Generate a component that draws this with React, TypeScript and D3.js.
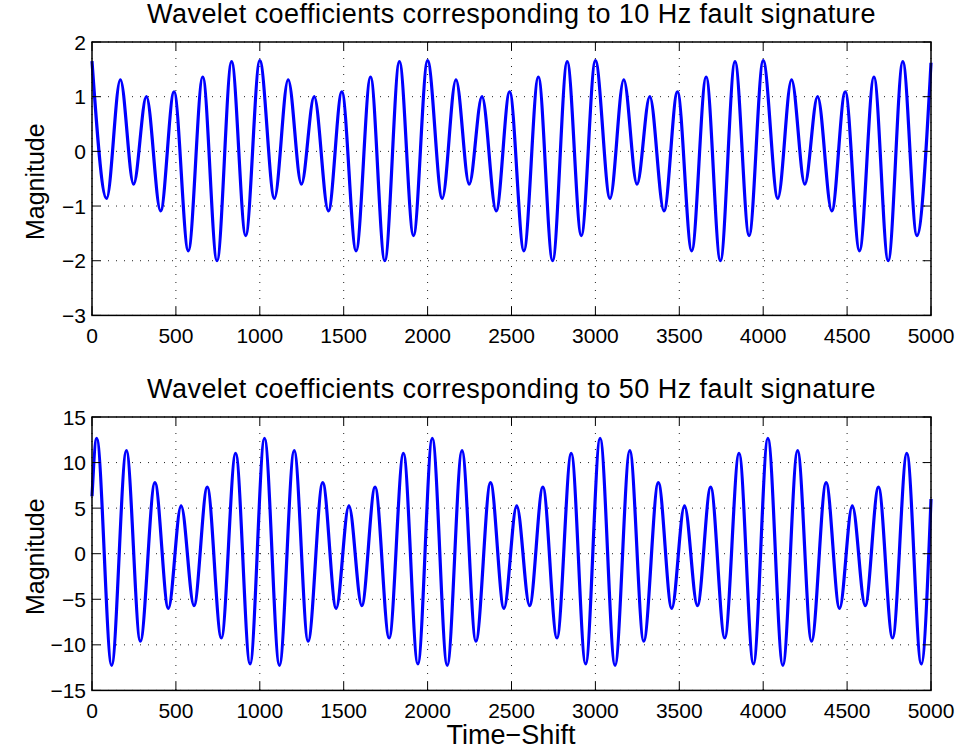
import React from "react";
import * as d3 from "d3";

const xTicks = [0, 500, 1000, 1500, 2000, 2500, 3000, 3500, 4000, 4500, 5000];
const topYTicks = [-3, -2, -1, 0, 1, 2];
const bottomYTicks = [-15, -10, -5, 0, 5, 10, 15];
const topTitle = "Wavelet coefficients corresponding to 10 Hz fault signature";
const bottomTitle = "Wavelet coefficients corresponding to 50 Hz fault signature";
const yLabel = "Magnitude";
const xLabel = "Time\u2212Shift";

// Extrema (peaks and troughs)
const topShift = [
  0, 87, 169, 248, 324, 409, 489, 574, 660, 745, 832, 916,
  1000, 1087, 1169, 1248, 1324, 1409, 1489, 1574, 1660, 1745, 1832, 1916,
  2000, 2087, 2169, 2248, 2324, 2409, 2489, 2574, 2660, 2745, 2832, 2916,
  3000, 3087, 3169, 3248, 3324, 3409, 3489, 3574, 3660, 3745, 3832, 3916,
  4000, 4087, 4169, 4248, 4324, 4409, 4489, 4574, 4660, 4745, 4832, 4916,
  5000,
];
const topMag = [
  1.65, -0.86, 1.31, -0.6, 1.0, -1.09, 1.09, -1.82, 1.36, -2.0, 1.64, -1.54,
  1.66, -0.86, 1.31, -0.6, 1.0, -1.09, 1.09, -1.82, 1.36, -2.0, 1.64, -1.54,
  1.66, -0.86, 1.31, -0.6, 1.0, -1.09, 1.09, -1.82, 1.36, -2.0, 1.64, -1.54,
  1.66, -0.86, 1.31, -0.6, 1.0, -1.09, 1.09, -1.82, 1.36, -2.0, 1.64, -1.54,
  1.66, -0.86, 1.31, -0.6, 1.0, -1.09, 1.09, -1.82, 1.36, -2.0, 1.64, -1.54,
  1.62,
];

// Extrema (peaks and troughs)
const bottomShift = [
  0,
  28, 117, 205, 288, 375, 455, 531, 608, 687, 771, 856, 942,
  1028, 1117, 1205, 1288, 1375, 1455, 1531, 1608, 1687, 1771, 1856, 1942,
  2028, 2117, 2205, 2288, 2375, 2455, 2531, 2608, 2687, 2771, 2856, 2942,
  3028, 3117, 3205, 3288, 3375, 3455, 3531, 3608, 3687, 3771, 3856, 3942,
  4028, 4117, 4205, 4288, 4375, 4455, 4531, 4608, 4687, 4771, 4856, 4942,
  5000,
];
const bottomMag = [
  6.3,
  12.65, -12.25, 11.3, -9.6, 7.8, -6.0, 5.25, -5.7, 7.3, -9.25, 11.0, -12.1,
  12.65, -12.25, 11.3, -9.6, 7.8, -6.0, 5.25, -5.7, 7.3, -9.25, 11.0, -12.1,
  12.65, -12.25, 11.3, -9.6, 7.8, -6.0, 5.25, -5.7, 7.3, -9.25, 11.0, -12.1,
  12.65, -12.25, 11.3, -9.6, 7.8, -6.0, 5.25, -5.7, 7.3, -9.25, 11.0, -12.1,
  12.65, -12.25, 11.3, -9.6, 7.8, -6.0, 5.25, -5.7, 7.3, -9.25, 11.0, -12.1,
  6.0,
];

const FONT = "'Liberation Sans', Arial, Helvetica, sans-serif";
const LEFT = 92;
const RIGHT = 931;
const PH = 273.4;
const TICK = 8.4;

type PanelProps = {
  top: number;
  shift: number[];
  mag: number[];
  yDomain: [number, number];
  yTicks: number[];
  title: string;
  showXLabel: boolean;
};

function Panel({ top, shift, mag, yDomain, yTicks, title, showXLabel }: PanelProps) {
  const x = d3.scaleLinear().domain([0, 5000]).range([LEFT, RIGHT]);
  const y = d3.scaleLinear().domain(yDomain).range([top + PH, top]);
  const bottom = top + PH;
  const pts: [number, number][] = shift.map((s, i) => [s, mag[i]]);
  const line = d3
    .line<[number, number]>()
    .x((d) => x(d[0]))
    .y((d) => y(d[1]))
    .curve(d3.curveMonotoneX);
  const fmt = (v: number) => d3.format("d")(v);
  return (
    <g>
      {/* grid */}
      {xTicks.map((t) => (
        <line key={"gx" + t} x1={x(t)} x2={x(t)} y1={top} y2={bottom} stroke="#222" strokeWidth={1} strokeDasharray="1,7" />
      ))}
      {yTicks.map((t) => (
        <line key={"gy" + t} x1={LEFT} x2={RIGHT} y1={y(t)} y2={y(t)} stroke="#222" strokeWidth={1} strokeDasharray="1,7" />
      ))}
      {/* data */}
      <path d={line(pts) || ""} fill="none" stroke="#0000ff" strokeWidth={3.2} strokeLinejoin="round" />
      {/* ticks */}
      {xTicks.map((t) => (
        <g key={"tx" + t}>
          <line x1={x(t)} x2={x(t)} y1={bottom} y2={bottom - TICK} stroke="#000" strokeWidth={1} />
          <line x1={x(t)} x2={x(t)} y1={top} y2={top + TICK} stroke="#000" strokeWidth={1} />
          <text x={x(t)} y={bottom + 28} textAnchor="middle" fontSize={21} fontFamily={FONT} fill="#000">
            {fmt(t)}
          </text>
        </g>
      ))}
      {yTicks.map((t) => (
        <g key={"ty" + t}>
          <line x1={LEFT} x2={LEFT + TICK} y1={y(t)} y2={y(t)} stroke="#000" strokeWidth={1} />
          <line x1={RIGHT} x2={RIGHT - TICK} y1={y(t)} y2={y(t)} stroke="#000" strokeWidth={1} />
          <text x={86} y={y(t)} dy="0.36em" textAnchor="end" fontSize={21} fontFamily={FONT} fill="#000">
            {fmt(t)}
          </text>
        </g>
      ))}
      {/* box */}
      <rect x={LEFT} y={top} width={RIGHT - LEFT} height={PH} fill="none" stroke="#000" strokeWidth={1.5} />
      {/* title */}
      <text
        x={(LEFT + RIGHT) / 2}
        y={top - 19}
        textAnchor="middle"
        fontSize={27}
        letterSpacing={0.45}
        fontFamily={FONT}
        fill="#000"
      >
        {title}
      </text>
      {/* y label */}
      <text
        transform={`translate(44, ${top + PH / 2 + 3}) rotate(-90)`}
        textAnchor="middle"
        fontSize={25}
        fontFamily={FONT}
        fill="#000"
      >
        {yLabel}
      </text>
      {showXLabel && (
        <text x={511} y={bottom + 54} textAnchor="middle" fontSize={27} fontFamily={FONT} fill="#000">
          {xLabel}
        </text>
      )}
    </g>
  );
}

export default function App() {
  return (
    <svg
      width={961}
      height={754}
      style={{ position: "absolute", left: 0, top: 0, background: "#fff" }}
    >
      <rect x={0} y={0} width={961} height={754} fill="#fff" />
      <Panel top={42} shift={topShift} mag={topMag} yDomain={[-3, 2]} yTicks={topYTicks} title={topTitle} showXLabel={false} />
      <Panel top={417} shift={bottomShift} mag={bottomMag} yDomain={[-15, 15]} yTicks={bottomYTicks} title={bottomTitle} showXLabel={true} />
    </svg>
  );
}
